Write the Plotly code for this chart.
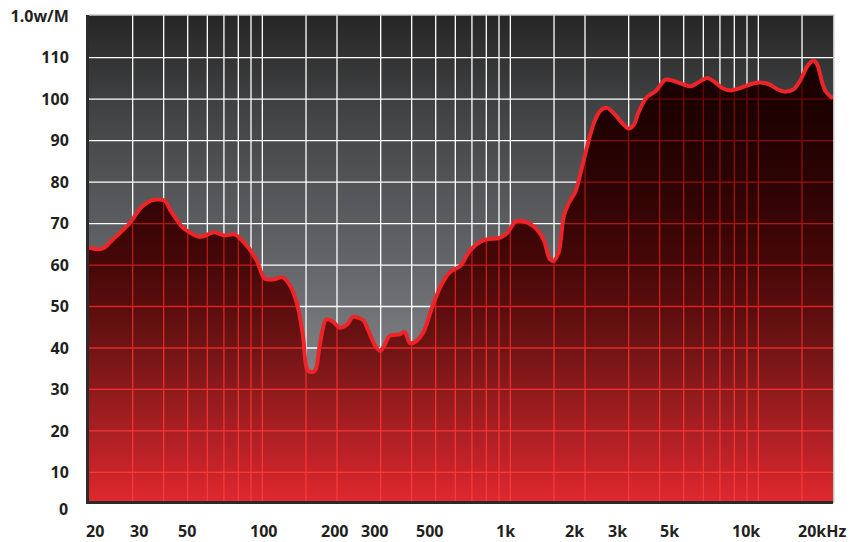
import numpy as np
import plotly.graph_objects as go

# Measured on-axis response (sensitivity, dB SPL @ 1 W / 1 m)
freq_hz = [20, 22.1, 23.1, 24.6, 26.6, 29.2, 32.5, 36.2, 40.4, 42.9, 47.9, 55.9,
           64.2, 70.5, 77.3, 86.2, 94.6, 102, 110, 121, 131, 139, 146, 151.5,
           157.7, 164, 170, 181, 193, 205, 220, 232, 255, 267, 284, 299,
           311, 326, 358, 375, 393, 414, 447, 484, 531, 573, 629, 690,
           781, 912, 971, 1049, 1116, 1243, 1364, 1442, 1497, 1568, 1642, 1720,
           1831, 1918, 2041, 2170, 2310, 2458, 2614, 2826, 3004, 3148, 3296, 3564,
           3849, 4224, 4562, 5330, 5672, 6223, 6616, 7152, 7727, 8478, 9304, 10050,
           11028, 11922, 12878, 13912, 14805, 15754, 16658, 17289, 18110, 18674, 19560, 20000]
level_db = [64.2, 63.8, 64.2, 65.8, 67.7, 70.1, 73.9, 75.7, 75.5, 72.9, 69.0, 66.8,
            67.9, 67.1, 67.4, 64.8, 61.2, 56.8, 56.5, 57.0, 54.4, 49.9, 42.7, 34.8,
            34.2, 34.8, 40.3, 46.9, 46.3, 44.9, 45.7, 47.5, 46.7, 44.3, 40.7, 39.3,
            40.7, 42.9, 43.3, 43.9, 41.2, 41.5, 43.9, 49.9, 55.6, 58.4, 59.8, 63.6,
            66.0, 66.6, 67.7, 70.5, 70.6, 69.3, 66.0, 61.4, 61.0, 63.2, 71.7, 74.9,
            77.7, 82.1, 88.6, 94.2, 97.3, 97.9, 96.6, 94.2, 92.9, 93.8, 97.0, 100.6,
            101.9, 104.7, 104.4, 103.1, 103.9, 105.1, 104.3, 102.7, 102.1, 102.7, 103.6, 104.0,
            103.6, 102.4, 101.8, 102.4, 104.7, 107.9, 109.3, 108.3, 103.9, 101.9, 100.6, 100.3]

# Axis labels
y_tick_vals = [10, 20, 30, 40, 50, 60, 70, 80, 90, 100, 110, 120]
y_tick_text = ["10", "20", "30", "40", "50", "60", "70", "80", "90", "100", "110", "1.0w/M"]
x_tick_vals = [20, 30, 50, 100, 200, 300, 500, 1000, 2000, 3000, 5000, 10000, 20000]
x_tick_text = ["20", "30", "50", "100", "200", "300", "500", "1k", "2k", "3k", "5k", "10k", "20kHz"]
x_label_shift = [6, 6, -1, 1, -3, -6, -6, -5, -11, -11, -14, -12, -11]

# Grid layout
grid_freqs = [30, 40, 50, 60, 70, 80, 90, 100, 150, 200, 300, 400, 500, 600, 700, 800, 900,
              1000, 1500, 2000, 3000, 4000, 5000, 6000, 7000, 8000, 9000, 10000, 15000]
grid_levels = [10, 20, 30, 40, 50, 60, 70, 80, 90, 100, 110]

F_MIN, F_MAX = 20, 20000
Y_MIN, Y_MAX = 3.1, 120.3
FONT = dict(family="Open Sans", size=16, color="#231f20", weight="bold")

log_f = np.log10(freq_hz)


def response_at(f):
    return float(np.interp(np.log10(f), log_f, level_db))


def rgb_hex(c):
    return "#%02x%02x%02x" % tuple(int(round(v)) for v in c)


# colour of the grid where it runs underneath the response fill
red_grid_stops = [(0, (246, 62, 62)), (30, (242, 50, 50)), (40, (229, 42, 42)),
                  (50, (214, 34, 34)), (60, (196, 28, 28)), (70, (176, 22, 22)),
                  (80, (156, 16, 16)), (90, (136, 12, 12)), (100, (112, 6, 6)),
                  (120, (84, 3, 3))]


def red_grid_color(v):
    ks = [s[0] for s in red_grid_stops]
    rgb = [np.interp(v, ks, [s[1][i] for s in red_grid_stops]) for i in range(3)]
    return rgb_hex(rgb)


fig = go.Figure()

# panel background: vertical grey gradient
fig.add_trace(go.Scatter(
    x=[F_MIN, F_MAX, F_MAX, F_MIN, F_MIN], y=[Y_MIN, Y_MIN, Y_MAX, Y_MAX, Y_MIN],
    mode="lines", line=dict(width=0), fill="toself",
    fillgradient=dict(type="vertical", start=0, stop=120, colorscale=[
        [0.0, "#9a9c9f"], [30 / 120, "#838588"], [40 / 120, "#7a7c7f"],
        [60 / 120, "#646568"], [80 / 120, "#535456"], [100 / 120, "#3f4041"],
        [110 / 120, "#333334"], [1.0, "#262626"]]),
    hoverinfo="skip"))

# white grid (visible above the response)
gx, gy = [], []
for f in grid_freqs:
    gx += [f, f, None]
    gy += [Y_MIN, Y_MAX, None]
for v in grid_levels:
    gx += [F_MIN, F_MAX, None]
    gy += [v, v, None]
fig.add_trace(go.Scatter(x=gx, y=gy, mode="lines", line=dict(color="#ffffff", width=1.3),
                         hoverinfo="skip"))

# response area with red gradient
fig.add_trace(go.Scatter(
    x=freq_hz, y=level_db, mode="lines", line=dict(width=0, shape="spline", smoothing=0.8),
    fill="tozeroy",
    fillgradient=dict(type="vertical", start=0, stop=120, colorscale=[
        [0.0, "#e6292f"], [3 / 120, "#e0282e"], [10 / 120, "#c9242a"], [20 / 120, "#aa1f23"],
        [30 / 120, "#8d1a1c"], [40 / 120, "#711414"], [50 / 120, "#5a0d0d"],
        [60 / 120, "#470808"], [70 / 120, "#3a0505"], [80 / 120, "#2c0303"],
        [100 / 120, "#1c0101"], [1.0, "#100000"]]),
    hoverinfo="skip"))

# red grid, only underneath the response
dense = np.linspace(np.log10(F_MIN), np.log10(F_MAX), 4000)
dense_resp = np.interp(dense, log_f, level_db)
band_edges = [Y_MIN] + grid_levels + [Y_MAX]
for lo, hi in zip(band_edges[:-1], band_edges[1:]):
    sx, sy = [], []
    for f in grid_freqs:
        top = response_at(f)
        if top > lo:
            sx += [f, f, None]
            sy += [lo, min(hi, top), None]
    if sx:
        fig.add_trace(go.Scatter(x=sx, y=sy, mode="lines",
                                 line=dict(color=red_grid_color((lo + hi) / 2), width=1.3),
                                 hoverinfo="skip"))
for v in grid_levels:
    above = dense_resp > v
    sx, sy = [], []
    i = 0
    while i < len(above):
        if above[i]:
            j = i
            while j + 1 < len(above) and above[j + 1]:
                j += 1
            sx += [10 ** dense[i], 10 ** dense[j], None]
            sy += [v, v, None]
            i = j + 1
        else:
            i += 1
    if sx:
        fig.add_trace(go.Scatter(x=sx, y=sy, mode="lines",
                                 line=dict(color=red_grid_color(v), width=1.3),
                                 hoverinfo="skip"))

# response curve
fig.add_trace(go.Scatter(x=freq_hz, y=level_db, mode="lines",
                         line=dict(color="#ee2428", width=4, shape="spline", smoothing=0.8),
                         hoverinfo="skip"))

annotations = []
for f, t, dx in zip(x_tick_vals, x_tick_text, x_label_shift):
    annotations.append(dict(x=np.log10(f), xref="x", y=0, yref="paper", yanchor="top",
                            xanchor="center", yshift=-17, xshift=dx, text=t,
                            showarrow=False, font=FONT))
# "0" sits below the visible range; place it in paper units from the axis range
zero_paper = (0 - Y_MIN) / (Y_MAX - Y_MIN)
annotations.append(dict(x=0, xref="paper", y=zero_paper, yref="paper", xanchor="right",
                        yanchor="middle", xshift=-19, yshift=5, text="0",
                        showarrow=False, font=FONT))

fig.update_layout(
    width=867, height=542,
    margin=dict(l=89, r=34, t=15, b=41, autoexpand=False),
    paper_bgcolor="#ffffff", plot_bgcolor="#ffffff",
    showlegend=False, hovermode=False,
    annotations=annotations,
    shapes=[
        dict(type="line", xref="paper", yref="paper", x0=0, x1=1.002, y0=1, y1=1,
             line=dict(color="#c4c4c4", width=1.5), layer="above"),
        dict(type="line", xref="paper", yref="paper", x0=1.001, x1=1.001, y0=-0.004, y1=1,
             line=dict(color="#c4c4c4", width=1.5), layer="above"),
    ],
)
fig.update_xaxes(type="log", range=[np.log10(F_MIN), np.log10(F_MAX)], showgrid=False,
                 zeroline=False, showticklabels=False, ticks="", automargin=False,
                 showline=True, linecolor="#2b2b2b", linewidth=3)
fig.update_yaxes(range=[Y_MIN, Y_MAX], showgrid=False, zeroline=False, automargin=False,
                 tickmode="array", tickvals=y_tick_vals, ticktext=y_tick_text,
                 ticks="", tickfont=FONT, ticklabelstandoff=14,
                 showline=True, linecolor="#2b2b2b", linewidth=3)

fig.write_html("out.html")
